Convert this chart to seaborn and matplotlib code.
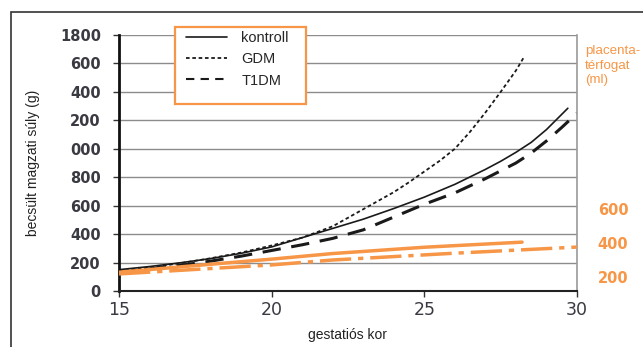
import numpy as np
import pandas as pd
import seaborn as sns
import matplotlib
matplotlib.use("Agg")
import matplotlib.pyplot as plt
from matplotlib.lines import Line2D
from matplotlib.patches import Rectangle

# ---- data ----
weeks_kontroll = [15, 16, 17, 18, 19, 20, 21, 22, 23, 24, 25, 26, 27, 27.5, 28, 28.5, 29, 29.7]
kontroll = [150, 172, 198, 228, 265, 310, 375, 440, 505, 580, 660, 750, 855, 912, 975, 1045, 1135, 1285]

weeks_gdm = [15, 16, 17, 18, 19, 20, 21, 22, 23, 24, 24.5, 25, 25.5, 26, 26.5, 27, 27.5, 28, 28.25]
gdm = [140, 165, 195, 230, 270, 320, 375, 455, 575, 695, 765, 840, 915, 1000, 1120, 1255, 1400, 1550, 1640]

weeks_t1dm = [15, 16, 17, 18, 19, 20, 21, 22, 23, 24, 25, 26, 27, 28, 28.5, 29, 29.5, 30]
t1dm = [130, 155, 180, 210, 245, 285, 325, 370, 430, 520, 610, 690, 790, 900, 970, 1055, 1150, 1250]

weeks_plac_a = [15, 18, 20, 22, 25, 28.2]
plac_a = [228, 275, 305, 338, 375, 405]
weeks_plac_b = [15, 20, 22, 26, 30]
plac_b = [218, 271, 300, 340, 376]

left_ticks = [0, 200, 400, 600, 800, 1000, 1200, 1400, 1600, 1800]
left_labels = ["0", "200", "400", "600", "800", "000", "200", "400", "600", "1800"]
x_ticks = [15, 20, 25, 30]
right_ticks = [200, 400, 600]
legend_names = ["kontroll", "GDM", "T1DM"]

# ---- style ----
sns.set_style("white")
plt.rcParams['font.family'] = ['Liberation Sans', 'DejaVu Sans']

W, H = 643, 347
fig = plt.figure(figsize=(W / 100, H / 100), dpi=100)
ax = fig.add_axes([119 / W, 1 - 291 / H, (577 - 119) / W, (291 - 35) / H])

orange = "#F79646"
black = "#1a1a1a"

sns.lineplot(x=weeks_kontroll, y=kontroll, ax=ax, color=black, lw=1.2, linestyle="-")
sns.lineplot(x=weeks_gdm, y=gdm, ax=ax, color=black, lw=1.3, linestyle=(0, (2, 1.5)))
sns.lineplot(x=weeks_t1dm, y=t1dm, ax=ax, color=black, lw=2.2, linestyle=(0, (6, 3.5)))

ax.set_xlim(15, 30)
ax.set_ylim(0, 1800)
ax.set_yticks(left_ticks)
ax.set_yticklabels(left_labels)
ax.set_xticks(x_ticks)
ax.yaxis.grid(True, color="#8c8c8c", lw=1)
ax.xaxis.grid(False)
ax.set_axisbelow(True)

ax.spines["top"].set_visible(False)
ax.spines["right"].set_color("#9a9a9a")
ax.spines["right"].set_linewidth(1.2)
ax.spines["left"].set_color("#111111")
ax.spines["left"].set_linewidth(2)
ax.spines["bottom"].set_color("#222222")
ax.spines["bottom"].set_linewidth(1.5)

tick_col = "#3a3a42"
ax.tick_params(axis="y", direction="out", length=4, width=1, pad=9, left=True,
               color="#333333")
ax.tick_params(axis="x", direction="out", length=4, width=1, pad=3, bottom=True,
               color="#333333")
for t in ax.get_yticklabels():
    t.set_fontfamily("DejaVu Sans")
    t.set_fontweight("bold")
    t.set_fontsize(10.5)
    t.set_color(tick_col)
for t in ax.get_xticklabels():
    t.set_fontfamily("DejaVu Sans")
    t.set_fontsize(12.5)
    t.set_color(tick_col)

ax.set_ylabel("becsült magzati súly (g)", fontsize=10, color="#222222", labelpad=14)
ax.set_xlabel("gestatiós kor", fontsize=10, color="#222222", labelpad=7)

# twin axis for placenta volume
ax2 = ax.twinx()
sns.lineplot(x=weeks_plac_a, y=plac_a, ax=ax2, color=orange, lw=2.5, linestyle="-")
sns.lineplot(x=weeks_plac_b, y=plac_b, ax=ax2, color=orange, lw=2.5,
             linestyle=(0, (9, 2, 1.5, 2)))
ax2.set_ylim(117.6, 1623.5)
ax2.set_yticks(right_ticks)
ax2.tick_params(axis="y", length=0, pad=15)
for t in ax2.get_yticklabels():
    t.set_fontfamily("DejaVu Sans")
    t.set_fontweight("bold")
    t.set_fontsize(10.5)
    t.set_color(orange)
for s in ax2.spines.values():
    s.set_visible(False)
ax2.grid(False)

fig.text(585 / W, 1 - 45 / H, "placenta-\ntérfogat\n(ml)", color=orange, fontsize=9.6,
         va="top", ha="left", linespacing=1.3)

# legend (frame drawn separately)
handles = [
    Line2D([], [], color=black, lw=1.2, linestyle="-"),
    Line2D([], [], color=black, lw=1.3, linestyle=(0, (2, 1.5))),
    Line2D([], [], color=black, lw=1.5, linestyle=(0, (4, 3))),
]
fig.patches.append(Rectangle((175 / W, 1 - 104 / H), (306 - 175) / W, (104 - 27) / H,
                             transform=fig.transFigure, facecolor="white",
                             edgecolor=orange, lw=1.6, zorder=5))
leg = fig.legend(handles, legend_names, loc="upper left",
                 bbox_to_anchor=(186 / W, 1 - 31 / H), fontsize=10.5,
                 handlelength=2.8, handletextpad=1.0, labelspacing=0.5,
                 borderpad=0, borderaxespad=0, fancybox=False, frameon=False)
leg.set_zorder(6)

# figure border
fig.patches.append(Rectangle((11 / W, -0.1), 1.2, 1 - 12 / H + 0.1, transform=fig.transFigure,
                             fill=False, edgecolor="#333333", lw=1.2))

fig.savefig("out.png", dpi=100)
